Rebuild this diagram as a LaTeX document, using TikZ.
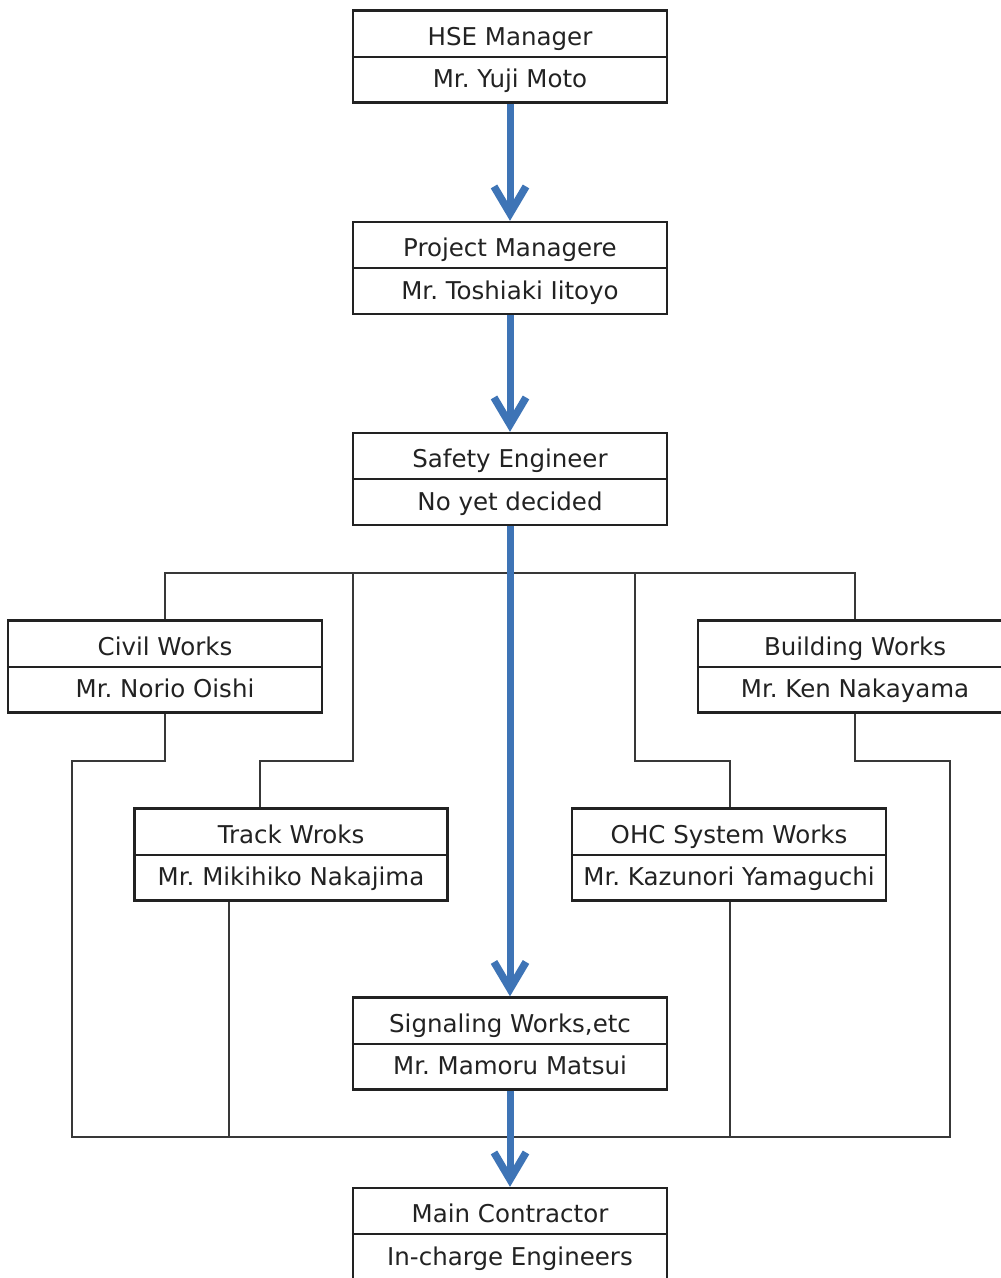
\documentclass[tikz,border=0pt]{standalone}
\usepackage{fontspec}
\setmainfont{DejaVu Sans}
\frenchspacing
\usetikzlibrary{arrows.meta}
\definecolor{flowblue}{HTML}{3E74B6}
\definecolor{inkgray}{HTML}{222222}
\tikzset{
  unitbox/.style={draw=inkgray, line width=2.4pt, fill=white, minimum height=92pt, inner sep=0pt},
  divider/.style={draw=inkgray, line width=2pt},
  unittext/.style={anchor=base, inner sep=0pt, text=inkgray, font=\fontsize{24.5}{29}\selectfont},
  wire/.style={draw=inkgray!90, line width=2pt},
  flow/.style={draw=flowblue, line width=7pt, -{Straight Barb[length=27pt,width=32pt,line width=7.5pt]}},
}
% one organisation unit: name, x, y, width, title, person
\newcommand\orgunit[6]{%
  \node[unitbox, minimum width=#4] (#1) at (#2,#3) {};
  \draw[divider] (#1.west) -- (#1.east);
  \node[unittext] (#1-title) at ([yshift=11.5pt]#1.center) {#5};
  \node[unittext] (#1-name) at ([yshift=-31pt]#1.center) {#6};
}
\begin{document}
\begin{tikzpicture}[x=1pt,y=-1pt]
  \clip (0,0) rectangle (1001,1278);
  \fill[white] (0,0) rectangle (1001,1278);

  % reporting lines to the works units
  \coordinate (busL) at (165,573);
  \coordinate (busR) at (855,573);
  \coordinate (trackTop1) at (353,573);
  \coordinate (trackTop2) at (353,761);
  \coordinate (trackTop3) at (260,761);
  \coordinate (ohcTop1) at (635,573);
  \coordinate (ohcTop2) at (635,761);
  \coordinate (ohcTop3) at (730,761);
  \coordinate (civilLow1) at (165,761);
  \coordinate (loopL1) at (72,761);
  \coordinate (loopL2) at (72,1137);
  \coordinate (loopR2) at (950,1137);
  \coordinate (loopR1) at (950,761);
  \coordinate (buildLow1) at (855,761);
  \coordinate (trackLow1) at (229,901);
  \coordinate (trackLow2) at (229,1137);
  \coordinate (ohcLow1) at (730,901);
  \coordinate (ohcLow2) at (730,1137);

  \orgunit{hse}{510}{56.5}{314pt}{HSE Manager}{Mr. Yuji Moto}
  \orgunit{pm}{510}{268}{314pt}{Project Managere}{Mr. Toshiaki Iitoyo}
  \orgunit{safety}{510}{479}{314pt}{Safety Engineer}{No yet decided}
  \orgunit{civil}{165}{666.5}{314pt}{Civil Works}{Mr. Norio Oishi}
  \orgunit{building}{855}{666.5}{314pt}{Building Works}{Mr. Ken Nakayama}
  \orgunit{track}{291}{854.5}{313pt}{Track Wroks}{Mr. Mikihiko Nakajima}
  \orgunit{ohc}{729}{854.5}{314pt}{OHC System Works}{Mr. Kazunori Yamaguchi}
  \orgunit{signal}{510}{1043.5}{314pt}{Signaling Works,etc}{Mr. Mamoru Matsui}
  \orgunit{main}{510}{1234}{314pt}{Main Contractor}{In-charge Engineers}

  \draw[wire] (civil.north) -- (busL) -- (busR) -- (building.north);
  \draw[wire] (trackTop1) -- (trackTop2) -- (trackTop3) -- (trackTop3 |- track.north);
  \draw[wire] (ohcTop1) -- (ohcTop2) -- (ohcTop3) -- (ohcTop3 |- ohc.north);
  \draw[wire] (civil.south) -- (civilLow1) -- (loopL1) -- (loopL2) -- (loopR2)
              -- (loopR1) -- (buildLow1) -- (building.south);
  \draw[wire] (trackLow1 |- track.south) -- (trackLow2);
  \draw[wire] (ohcLow1 |- ohc.south) -- (ohcLow2);

  % main chain of responsibility
  \draw[flow] (hse.south) -- (pm.north);
  \draw[flow] (pm.south) -- (safety.north);
  \draw[flow] (safety.south) -- (signal.north);
  \draw[flow] (signal.south) -- (main.north);
\end{tikzpicture}
\end{document}
